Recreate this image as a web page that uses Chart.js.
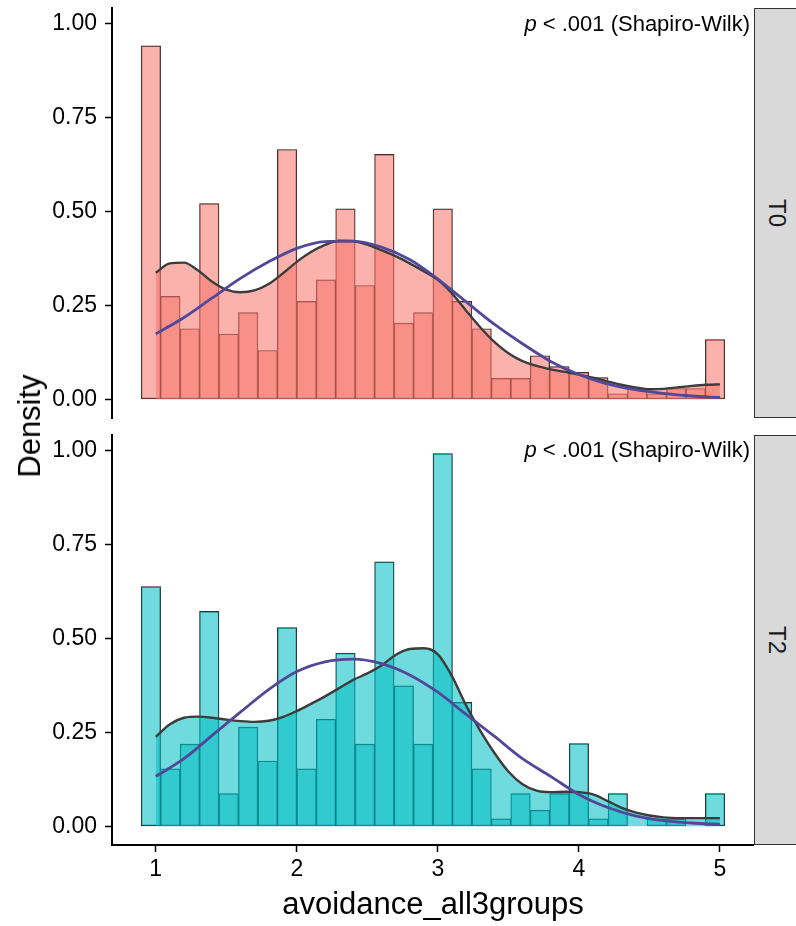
<!DOCTYPE html>
<html>
<head>
<meta charset="utf-8">
<script src="https://cdn.jsdelivr.net/npm/chart.js@4.4.1/dist/chart.umd.min.js"></script>
<style>
  html, body { margin: 0; padding: 0; background: #fff; }
  body { width: 796px; height: 926px; position: relative; overflow: hidden; font-family: "Liberation Sans", Arial, sans-serif; }
  .panel { position: absolute; left: 0; width: 754px; }
  #topPanel { top: 0; height: 426px; }
  #botPanel { top: 427px; height: 499px; }
  .strip { position: absolute; left: 754px; width: 46px; height: 410px; box-sizing: border-box; background: #d9d9d9; border: 1px solid #333; display: flex; align-items: center; justify-content: center; }
  .strip span { writing-mode: vertical-rl; font-size: 24px; color: #1a1a1a; }
  .pval { position: absolute; right: 46px; font-size: 22px; line-height: 22px; white-space: nowrap; color: #000; }
  #ylab { position: absolute; left: 30px; top: 426px; transform: translate(-50%, -50%) rotate(-90deg); font-size: 31px; white-space: nowrap; color: #000; }
</style>
</head>
<body>
<div class="panel" id="topPanel"><canvas id="chartT0"></canvas></div>
<div class="panel" id="botPanel"><canvas id="chartT2"></canvas></div>
<div class="strip" style="top: 8px;"><span>T0</span></div>
<div class="strip" style="top: 435px;"><span>T2</span></div>
<div class="pval" style="top: 13px;"><i>p</i> &lt; .001 (Shapiro-Wilk)</div>
<div class="pval" style="top: 439px;"><i>p</i> &lt; .001 (Shapiro-Wilk)</div>
<div id="ylab">Density</div>
<script>
const FONT = '"Liberation Sans", Arial, sans-serif';

// histogram bins (30 bins, width 4/29)
const BIN_X = [0.9655, 1.1034, 1.2414, 1.3793, 1.5172, 1.6552, 1.7931, 1.9310, 2.0690, 2.2069,
               2.3448, 2.4828, 2.6207, 2.7586, 2.8966, 3.0345, 3.1724, 3.3103, 3.4483, 3.5862,
               3.7241, 3.8621, 4.0000, 4.1379, 4.2759, 4.4138, 4.5517, 4.6897, 4.8276, 4.9655];
const HIST_T0 = [0.941, 0.274, 0.188, 0.521, 0.174, 0.231, 0.130, 0.665, 0.261, 0.318,
                 0.507, 0.303, 0.652, 0.203, 0.231, 0.507, 0.261, 0.188, 0.056, 0.056,
                 0.116, 0.087, 0.072, 0.058, 0.015, 0.029, 0.015, 0.029, 0.029, 0.159];
const HIST_T2 = [0.638, 0.153, 0.219, 0.572, 0.087, 0.264, 0.174, 0.529, 0.153, 0.285,
                 0.461, 0.219, 0.704, 0.374, 0.219, 0.992, 0.330, 0.153, 0.020, 0.087,
                 0.043, 0.087, 0.220, 0.020, 0.087, 0, 0.020, 0.020, 0, 0.087];

// kernel density curve
const DENS_X = [1.0, 1.1, 1.2, 1.3, 1.4, 1.5, 1.6, 1.7, 1.8, 1.9, 2.0, 2.1, 2.2, 2.3, 2.4, 2.5, 2.6, 2.7, 2.8, 2.9, 3.0,
                3.1, 3.2, 3.3, 3.4, 3.5, 3.6, 3.7, 3.8, 3.9, 4.0, 4.1, 4.2, 4.3, 4.4, 4.5, 4.6, 4.7, 4.8, 4.9, 5.0];
const DENS_T0 = [0.337, 0.362, 0.364, 0.343, 0.313, 0.292, 0.285, 0.290, 0.307, 0.335, 0.366,
                 0.392, 0.411, 0.422, 0.421, 0.412, 0.397, 0.381, 0.362, 0.341, 0.318,
                 0.282, 0.236, 0.192, 0.153, 0.123, 0.102, 0.089, 0.080, 0.073, 0.066,
                 0.058, 0.048, 0.039, 0.032, 0.027, 0.028, 0.032, 0.036, 0.039, 0.040];
const DENS_T2 = [0.238, 0.272, 0.289, 0.292, 0.289, 0.284, 0.280, 0.278, 0.281, 0.291, 0.307,
                 0.326, 0.346, 0.368, 0.390, 0.407, 0.428, 0.456, 0.472, 0.474, 0.458,
                 0.400, 0.322, 0.255, 0.196, 0.146, 0.112, 0.095, 0.091, 0.092, 0.091,
                 0.085, 0.068, 0.050, 0.037, 0.029, 0.024, 0.022, 0.022, 0.022, 0.022];

// normal reference curve
const NORM_X = [1.0, 1.2, 1.4, 1.6, 1.8, 2.0, 2.2, 2.4, 2.6, 2.8, 3.0, 3.2, 3.4, 3.6, 3.8, 4.0, 4.2, 4.4, 4.6, 4.8, 5.0];
const NORM_T0 = [0.174, 0.218, 0.270, 0.322, 0.366, 0.402, 0.420, 0.421, 0.405, 0.372, 0.320,
                 0.260, 0.200, 0.148, 0.101, 0.066, 0.041, 0.026, 0.016, 0.009, 0.005];
const NORM_T2 = [0.133, 0.180, 0.242, 0.304, 0.364, 0.412, 0.438, 0.445, 0.433, 0.403, 0.357,
                 0.298, 0.240, 0.180, 0.133, 0.085, 0.051, 0.028, 0.015, 0.009, 0.005];

const X_TICKS = [1, 2, 3, 4, 5];
const Y_TICKS = [0, 0.25, 0.5, 0.75, 1];

function pts(xs, ys) {
  return xs.map((x, i) => ({ x: x, y: ys[i] }));
}

// keep the plot area fixed: no extra room for overhanging tick labels
function noOverhang(s) {
  s.paddingTop = 0;
  s.paddingBottom = 0;
  s.paddingLeft = 0;
  s.paddingRight = 0;
}

function makePanel(canvasId, hist, dens, norm, fill, showX) {
  return new Chart(document.getElementById(canvasId), {
    type: 'bar',
    data: {
      datasets: [
        {
          type: 'line', data: pts(NORM_X, norm), borderColor: '#51489a', borderWidth: 2.8,
          pointRadius: 0, fill: false, cubicInterpolationMode: 'monotone', order: 1
        },
        {
          type: 'line', data: pts(DENS_X, dens), borderColor: '#3c3c3c', borderWidth: 2.4,
          pointRadius: 0, fill: 'origin', backgroundColor: fill, cubicInterpolationMode: 'monotone', order: 2
        },
        {
          type: 'bar', data: pts(BIN_X, hist), backgroundColor: fill, borderColor: '#222',
          borderWidth: 0.75, borderSkipped: false, barPercentage: 1, categoryPercentage: 1, order: 3
        }
      ]
    },
    options: {
      responsive: true,
      maintainAspectRatio: false,
      animation: false,
      events: [],
      layout: { padding: { top: 8, bottom: showX ? 0 : 8, left: 0, right: 0 } },
      plugins: { legend: { display: false }, tooltip: { enabled: false } },
      scales: {
        x: {
          type: 'linear', min: 0.6897, max: 5.2414, offset: false, display: showX,
          afterBuildTicks: s => { s.ticks = X_TICKS.map(v => ({ value: v })); },
          afterFit: s => { s.height = showX ? 81 : 0; noOverhang(s); },
          grid: { display: true, offset: false, drawOnChartArea: false, drawTicks: true, tickLength: 7, tickWidth: 1.5, tickColor: '#000' },
          border: { display: true, color: '#000', width: 2 },
          ticks: { color: '#000', font: { family: FONT, size: 23 }, padding: 4, maxRotation: 0, callback: v => String(v) },
          title: { display: showX, text: 'avoidance_all3groups', color: '#000', font: { family: FONT, size: 31 }, padding: { top: 0, bottom: 2 } }
        },
        y: {
          min: -0.0496, max: 1.0416,
          afterBuildTicks: s => { s.ticks = Y_TICKS.map(v => ({ value: v })); },
          afterFit: s => { s.width = 112; noOverhang(s); },
          grid: { display: true, drawOnChartArea: false, drawTicks: true, tickLength: 7, tickWidth: 1.5, tickColor: '#000' },
          border: { display: true, color: '#000', width: 2 },
          ticks: { color: '#000', font: { family: FONT, size: 23 }, padding: 8, callback: v => v.toFixed(2) }
        }
      }
    }
  });
}

makePanel('chartT0', HIST_T0, DENS_T0, NORM_T0, 'rgba(248,118,109,0.56)', false);
makePanel('chartT2', HIST_T2, DENS_T2, NORM_T2, 'rgba(0,191,196,0.56)', true);
</script>
</body>
</html>
